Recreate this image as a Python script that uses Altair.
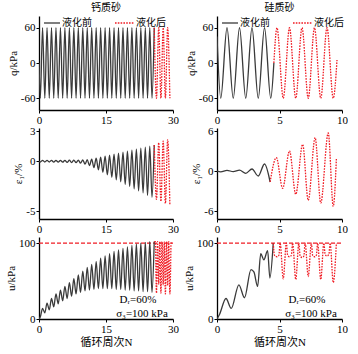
import altair as alt
import pandas as pd

# ---------------- data ----------------
# Loading cycle k: the cycle minimum sits near N = k + 0.3, the maximum near N = k + 0.8
MIN_PHASE = 0.3
MAX_PHASE = 0.8

# 钙质砂 (left column), before liquefaction: one value per cycle k = 0..25
cal_q_start = 0
cal_q_min = [-60, -60, -60, -60, -60, -60, -60, -60, -60, -60, -60, -60, -60,
             -60, -60, -60, -60, -60, -60, -60, -60, -60, -60, -60, -60, -60]
cal_q_max = [60, 60, 60, 60, 60, 60, 60, 60, 60, 60, 60, 60, 60,
             60, 60, 60, 60, 60, 60, 60, 60, 60, 60, 60, 60, 60]
cal_eps_start = 0
cal_eps_min = [-0.08, -0.08, -0.08, -0.09, -0.1, -0.1, -0.12, -0.13, -0.15, -0.2,
               -0.3, -0.45, -0.65, -0.85, -1.1, -1.35, -1.6, -1.85, -2.05, -2.3,
               -2.5, -2.75, -2.95, -3.15, -3.4, -3.6]
cal_eps_max = [0.08, 0.08, 0.08, 0.08, 0.08, 0.09, 0.1, 0.1, 0.11, 0.12,
               0.15, 0.2, 0.3, 0.4, 0.5, 0.6, 0.7, 0.8, 0.9, 1.0,
               1.1, 1.2, 1.3, 1.4, 1.5, 1.6]
cal_u_start = 0
cal_u_min = [3, 8, 12, 16, 20, 24, 27, 30, 33, 35, 37, 38, 39,
             40, 40, 40, 40, 39, 39, 38, 38, 37, 37, 36, 36, 35]
cal_u_max = [14, 21, 27, 33, 38, 43, 48, 53, 58, 63, 68, 72, 76,
             80, 83, 86, 89, 91, 93, 95, 97, 99, 100, 101, 102, 102]

# 钙质砂, after liquefaction
cal_post_q_N = [25.8, 26.3, 26.8, 27.3, 27.8, 28.3, 28.8, 29.3]
cal_post_q = [60, -60, 60, -60, 60, -60, 60, -60]
cal_post_eps_N = [25.8, 26.3, 26.8, 27.3, 27.8, 28.3, 28.8, 29.3]
cal_post_eps = [1.6, -3.8, 1.85, -4.0, 2.0, -4.2, 2.15, -4.35]
cal_post_u_N = [25.8, 26.05, 26.3, 26.55, 26.8, 27.05, 27.3, 27.55, 27.8,
                28.05, 28.3, 28.55, 28.8, 29.05, 29.3, 29.55]
cal_post_u = [102, 102, 34, 102, 46, 102, 34, 102, 45,
              102, 33, 102, 44, 102, 33, 102]

# 硅质砂 (right column), before liquefaction
sil_pre_q_N = [0, 0.3, 0.8, 1.3, 1.8, 2.3, 2.8, 3.3, 3.8, 4.3, 4.55]
sil_pre_q = [45, -60, 60, -60, 60, -60, 60, -60, 60, -60, 0]
sil_pre_eps_N = [0, 0.3, 0.8, 1.3, 1.8, 2.3, 2.8, 3.3, 3.8, 4.25]
sil_pre_eps = [0, -0.12, 0.1, -0.1, 0.12, -0.35, 0.3, -0.75, 1.05, -1.65]
sil_pre_u_N = [0, 0.2, 0.72, 1.14, 1.75, 2.2, 2.72, 2.95, 3.25, 3.5, 3.75, 4.05, 4.23, 4.5]
sil_pre_u = [0, 6, 27, 14, 45, 28, 65, 62, 43, 86, 78, 90, 54, 100]

# 硅质砂, after liquefaction
sil_post_q_N = [4.55, 4.8, 5.3, 5.8, 6.3, 6.8, 7.3, 7.8, 8.3, 8.8, 9.3, 9.6]
sil_post_q = [0, 60, -60, 60, -60, 60, -60, 60, -60, 60, -60, 5]
sil_post_eps_N = [4.25, 4.75, 5.25, 5.8, 6.3, 6.85, 7.3, 7.85, 8.3, 8.9, 9.3, 9.55]
sil_post_eps = [-1.65, 2.0, -2.6, 3.0, -3.5, 4.0, -4.4, 5.0, -4.8, 5.7, -5.3, 1.8]
sil_post_u_N = [4.5, 4.6, 4.8, 4.95, 5.05, 5.3, 5.55, 5.65, 5.8, 5.95, 6.05, 6.3, 6.55,
                6.65, 6.8, 6.95, 7.05, 7.3, 7.55, 7.65, 7.8, 7.95, 8.05, 8.3, 8.55,
                8.65, 8.8, 8.95, 9.05, 9.3, 9.55]
sil_post_u = [100, 84, 82, 84, 100, 53, 100, 84, 82, 84, 100, 52, 100,
              83, 81, 83, 100, 56, 100, 84, 82, 84, 100, 52, 100,
              85, 83, 85, 100, 48, 100]

u_limit = 100  # pore pressure equal to confining pressure (red dashed line)

titles = ["钙质砂", "硅质砂"]
legend_labels = ["液化前", "液化后"]
note_lines = ["Dᵣ=60%", "σ₃=100 kPa"]
x_title = "循环周次N"
y_titles = ["q/kPa", "ε₁/%", "u/kPa"]

# ---------------- styling ----------------
SERIF = "Liberation Serif, DejaVu Serif, Noto Sans CJK SC"
CJK = "Noto Sans CJK SC"
BLACK = "#3a3a3a"
RED = "#f01c24"
W_L, W_R = 134, 125
H1, H2, H3 = 94, 91, 82


def cycle_points(start, mins, maxs):
    n, v = [0.0], [start]
    for k in range(len(mins)):
        n += [k + MIN_PHASE, k + MAX_PHASE]
        v += [mins[k], maxs[k]]
    return n, v


one = pd.DataFrame({"k": [0]})


def panel(pre_N, pre_v, post_N, post_v, xdom, xvals, ydom, yvals, ytitle,
          w, h, xtitle=None, title=None, legend=False, note=False, limit=None):
    pre = pd.DataFrame({"N": pre_N, "v": pre_v})
    post = pd.DataFrame({"N": post_N, "v": post_v})
    lab = "datum.value < 0 ? '-' + abs(datum.value) : '' + datum.value"
    xenc = alt.X("N:Q", scale=alt.Scale(domain=xdom, nice=False, zero=False),
                 axis=alt.Axis(values=xvals, labelFlush=False), title=xtitle)
    yenc = alt.Y("v:Q", scale=alt.Scale(domain=ydom, nice=False, zero=False),
                 axis=alt.Axis(values=yvals, labelExpr=lab), title=ytitle)
    layers = []
    if limit is not None:
        lim = pd.DataFrame({"N": [xdom[0]], "N2": [xdom[1]], "v": [limit]})
        layers.append(alt.Chart(lim).mark_rule(color=RED, strokeDash=[4, 2], strokeWidth=1.2)
                      .encode(x=xenc, x2="N2:Q", y=yenc))
    layers.append(alt.Chart(pre).mark_line(color=BLACK, strokeWidth=1.3,
                                           interpolate="monotone", clip=True)
                  .encode(x=xenc, y=yenc))
    layers.append(alt.Chart(post).mark_line(color=RED, strokeWidth=1.3, strokeDash=[1.6, 1.2],
                                            interpolate="monotone", clip=True)
                  .encode(x=xenc, y=yenc))
    if legend:
        layers.append(alt.Chart(one).mark_rule(color=BLACK, strokeWidth=1.3)
                      .encode(x=alt.value(5), x2=alt.value(21), y=alt.value(7)))
        layers.append(alt.Chart(one).mark_text(text=legend_labels[0], align="left", baseline="middle",
                                               font=CJK, fontSize=10, color="black")
                      .encode(x=alt.value(23), y=alt.value(7)))
        layers.append(alt.Chart(one).mark_rule(color=RED, strokeWidth=1.3, strokeDash=[1.6, 1.2])
                      .encode(x=alt.value(76), x2=alt.value(95), y=alt.value(7)))
        layers.append(alt.Chart(one).mark_text(text=legend_labels[1], align="left", baseline="middle",
                                               font=CJK, fontSize=10, color="black")
                      .encode(x=alt.value(97), y=alt.value(7)))
    if note:
        layers.append(alt.Chart(one).mark_text(text=note_lines[0], align="center", baseline="middle",
                                               font=SERIF, fontSize=11, color="black")
                      .encode(x=alt.value(w - 35), y=alt.value(63)))
        layers.append(alt.Chart(one).mark_text(text=note_lines[1], align="center", baseline="middle",
                                               font=SERIF, fontSize=11, color="black")
                      .encode(x=alt.value(w - 31), y=alt.value(77)))
    ch = alt.layer(*layers).properties(width=w, height=h)
    if title is not None:
        ch = ch.properties(title=alt.TitleParams(text=title, font=CJK, fontSize=10,
                                                 fontWeight="normal", anchor="middle",
                                                 offset=3, color="black"))
    return ch


cN, cv = cycle_points(cal_q_start, cal_q_min, cal_q_max)
p11 = panel(cN, cv, cal_post_q_N, cal_post_q, [0, 30], [0, 15, 30], [-80, 80], [-60, 0, 60],
            y_titles[0], W_L, H1, title=titles[0], legend=True)
p12 = panel(sil_pre_q_N, sil_pre_q, sil_post_q_N, sil_post_q, [0, 10], [0, 5, 10], [-80, 80],
            [-60, 0, 60], y_titles[0], W_R, H1, title=titles[1], legend=True)

cN, cv = cycle_points(cal_eps_start, cal_eps_min, cal_eps_max)
p21 = panel(cN, cv, cal_post_eps_N, cal_post_eps, [0, 30], [0, 15, 30], [-5.75, 3.3], [-5, 0, 3],
            y_titles[1], W_L, H2)
p22 = panel(sil_pre_eps_N, sil_pre_eps, sil_post_eps_N, sil_post_eps, [0, 10], [0, 5, 10],
            [-7.2, 6.45], [-6, 0, 6], y_titles[1], W_R, H2)

cN, cv = cycle_points(cal_u_start, cal_u_min, cal_u_max)
p31 = panel(cN, cv, cal_post_u_N, cal_post_u, [0, 30], [0, 15, 30], [0, 108], [0, 100],
            y_titles[2], W_L, H3, xtitle=x_title, note=True, limit=u_limit)
p32 = panel(sil_pre_u_N, sil_pre_u, sil_post_u_N, sil_post_u, [0, 10], [0, 5, 10], [0, 108],
            [0, 100], y_titles[2], W_R, H3, xtitle=x_title, note=True, limit=u_limit)

chart = (
    alt.concat(p11, p12, p21, p22, p31, p32, columns=2,
               spacing={"row": 18, "column": 44}, bounds="flush")
    .properties(padding={"left": 5, "top": 3, "right": 0, "bottom": 0}, background="white")
    .configure_view(stroke=None)
    .configure_axis(domainColor="black", domainWidth=1.3, tickColor="black", tickSize=3,
                    tickWidth=1, labelFont=SERIF, labelFontSize=11, labelColor="black",
                    labelPadding=1, titleFont=SERIF, titleFontSize=11, titleFontWeight="normal",
                    titleColor="black", titlePadding=2, grid=False)
)

chart.save("out.html", embed_options={"renderer": "svg", "actions": False})
